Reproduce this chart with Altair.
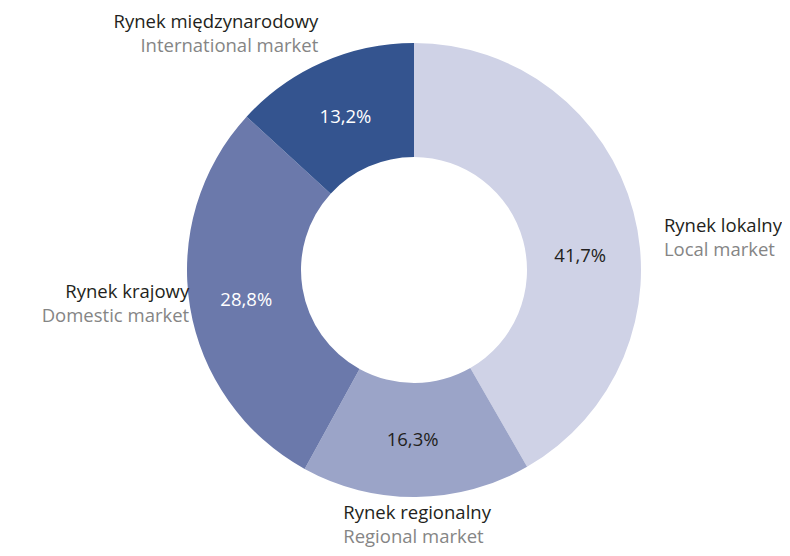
import altair as alt
import pandas as pd

names_pl = ["Rynek lokalny", "Rynek regionalny", "Rynek krajowy", "Rynek międzynarodowy"]
names_en = ["Local market", "Regional market", "Domestic market", "International market"]
shares = [41.7, 16.3, 28.8, 13.2]
labels = ["41,7%", "16,3%", "28,8%", "13,2%"]
colors = ["#cfd2e6", "#9ba4c8", "#6b79ab", "#34548f"]
text_colors = ["#231f20", "#231f20", "#ffffff", "#ffffff"]

df = pd.DataFrame({
    "pl": names_pl, "en": names_en, "share": shares, "label": labels,
    "order": list(range(len(shares))), "tcol": text_colors,
})

CX, CY = 406, 262
FONT = "Open Sans"
FS = 18.5
tscale = alt.Scale(domain=[0, 100], range=[0, 6.283185307])

base = alt.Chart(df).transform_window(
    cum="sum(share)", sort=[alt.SortField("order")], frame=[None, 0]
).transform_calculate(
    start="datum.cum - datum.share",
    mid="datum.cum - datum.share / 2",
).encode(x=alt.value(CX), y=alt.value(CY))

arcs = base.mark_arc(innerRadius=113, outerRadius=227).encode(
    theta=alt.Theta("start:Q", scale=tscale),
    theta2="cum:Q",
    color=alt.Color("pl:N", scale=alt.Scale(domain=names_pl, range=colors), legend=None),
)

# per-category offsets: percent label (dx, dy), outer label (align, dx, dy)
pct_off = {
    "Rynek lokalny": (2, 30),
    "Rynek regionalny": (-3, 0),
    "Rynek krajowy": (0, 2),
    "Rynek międzynarodowy": (0, 3),
}
place = {
    "Rynek lokalny": ("left", 18, 18),
    "Rynek regionalny": ("left", -73, 3),
    "Rynek krajowy": ("right", 12, -17),
    "Rynek międzynarodowy": ("right", 1, -28),
}

layers = [arcs]
for name in names_pl:
    sel = base.transform_filter(alt.datum.pl == name).encode(
        theta=alt.Theta("mid:Q", scale=tscale)
    )
    pdx, pdy = pct_off[name]
    layers.append(sel.mark_text(radius=170, dx=pdx, dy=pdy, fontSize=FS, font=FONT).encode(
        text="label:N", color=alt.Color("tcol:N", scale=None)))
    al, dx, dy = place[name]
    layers.append(sel.mark_text(radius=240, align=al, dx=dx, dy=dy, fontSize=FS,
                                font=FONT, color="#231f20").encode(text="pl:N"))
    layers.append(sel.mark_text(radius=240, align=al, dx=dx, dy=dy + 24, fontSize=FS,
                                font=FONT, color="#858585").encode(text="en:N"))

chart = alt.layer(*layers).properties(
    width=774, height=540, autosize="none", padding=0
).configure_view(stroke=None)

chart.save("out.html", embed_options={"renderer": "svg", "actions": False})
